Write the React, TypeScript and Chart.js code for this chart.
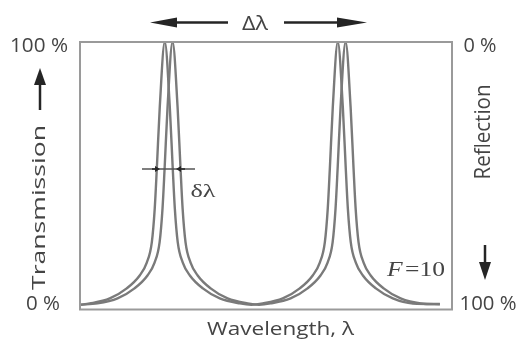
import React, { useEffect, useRef } from "react";
import { Chart, registerables } from "chart.js";

Chart.register(...registerables);

// Wavelength (arbitrary units) and transmission (%)
const wavelengthA = [0, 5.6, 17.2, 27, 34.5, 38.6, 41.5, 43.2, 44.4, 46.1, 49, 51.9, 53.6, 54.8, 56.5, 59.4, 63.5, 71, 80.8, 92.4, 99, 105.6, 117.2, 127, 134.5, 138.6, 141.5, 143.2, 144.4, 146.1, 149, 151.9, 153.6, 154.8, 156.5, 159.4, 163.5, 171, 180.8, 192.4, 208];
const transmissionA = [0.3, 0.8, 2.7, 6.5, 11.4, 16.3, 24, 36.9, 52, 75.3, 100, 75.3, 52, 36.9, 24, 16.3, 11.4, 6.5, 2.7, 0.8, 0.3, 0.8, 2.7, 6.5, 11.4, 16.3, 24, 36.9, 52, 75.3, 100, 75.3, 52, 36.9, 24, 16.3, 11.4, 6.5, 2.7, 0.8, 0.6];

const wavelengthB = [0, 10.1, 21.7, 31.5, 39, 43.1, 46, 47.7, 48.9, 50.6, 53.5, 56.4, 58.1, 59.3, 61, 63.9, 68, 75.5, 85.3, 96.9, 103.5, 110.1, 121.7, 131.5, 139, 143.1, 146, 147.7, 148.9, 150.6, 153.5, 156.4, 158.1, 159.3, 161, 163.9, 168, 175.5, 185.3, 196.9, 208];
const transmissionB = [0.35, 0.8, 2.7, 6.5, 11.4, 16.3, 24, 36.9, 52, 75.3, 100, 75.3, 52, 36.9, 24, 16.3, 11.4, 6.5, 2.7, 0.8, 0.3, 0.8, 2.7, 6.5, 11.4, 16.3, 24, 36.9, 52, 75.3, 100, 75.3, 52, 36.9, 24, 16.3, 11.4, 6.5, 2.7, 0.8, 0.5];

const transmissionTicks = [100, 0];
const transmissionTickLabels = ["100 %", "0 %"];
const reflectionTicks = [0, 100];
const reflectionTickLabels = ["0 %", "100 %"];

const xTitle = "Wavelength, λ";
const leftTitle = "Transmission";
const rightTitle = "Reflection";
const fsrLabel = "Δλ";
const fwhmLabel = "δλ";
const finesseName = "F";
const finesseValue = "=10";

const TEXT = "#444444";
const ARROW = "#252525";

function fitText(ctx: CanvasRenderingContext2D, text: string, x: number, y: number, font: string, targetW: number, rot = 0) {
  ctx.save();
  ctx.font = font;
  ctx.translate(x, y);
  ctx.rotate(rot);
  const w = ctx.measureText(text).width;
  ctx.scale(targetW / w, 1);
  ctx.textAlign = "center";
  ctx.textBaseline = "alphabetic";
  ctx.fillStyle = TEXT;
  ctx.fillText(text, 0, 0);
  ctx.restore();
}

function arrow(ctx: CanvasRenderingContext2D, x1: number, y1: number, x2: number, y2: number, head: number, half: number, lw: number, color: string) {
  const ang = Math.atan2(y2 - y1, x2 - x1);
  const bx = x2 - Math.cos(ang) * head;
  const by = y2 - Math.sin(ang) * head;
  ctx.save();
  ctx.strokeStyle = color;
  ctx.fillStyle = color;
  ctx.lineWidth = lw;
  ctx.beginPath();
  ctx.moveTo(x1, y1);
  ctx.lineTo(bx, by);
  ctx.stroke();
  ctx.beginPath();
  ctx.moveTo(x2, y2);
  ctx.lineTo(bx + Math.sin(ang) * half, by - Math.cos(ang) * half);
  ctx.lineTo(bx - Math.sin(ang) * half, by + Math.cos(ang) * half);
  ctx.closePath();
  ctx.fill();
  ctx.restore();
}

const decorations = {
  id: "decorations",
  afterDatasetsDraw(chart: any) {
    const { ctx, chartArea: a, scales } = chart;
    const ys = scales.y;
    const yr = scales.yR;
    ctx.save();
    // frame
    ctx.strokeStyle = "#9a9a9a";
    ctx.lineWidth = 2;
    ctx.strokeRect(a.left, a.top, a.right - a.left, a.bottom - a.top);

    // left ticks
    transmissionTicks.forEach((v, i) => {
      const py = ys.getPixelForValue(v);
      const cx = v === 100 ? 39 : 43;
      const w = v === 100 ? 58 : 34;
      fitText(ctx, transmissionTickLabels[i], cx, py + (v === 100 ? 10 : 4.5), "20px 'Open Sans'", w);
    });
    // right ticks
    reflectionTicks.forEach((v, i) => {
      const py = yr.getPixelForValue(v);
      const cx = v === 0 ? 480 : 488;
      const w = v === 0 ? 33 : 57;
      fitText(ctx, reflectionTickLabels[i], cx, py + (v === 0 ? 10 : 4.5), "20px 'Open Sans'", w);
    });

    // axis titles
    fitText(ctx, leftTitle, 45, 207.5, "19px 'Open Sans'", 165, -Math.PI / 2);
    fitText(ctx, rightTitle, 490, 132, "22px 'Open Sans'", 95, -Math.PI / 2);
    fitText(ctx, xTitle, 280.5, 335, "19px 'Open Sans'", 147);

    // Δλ
    fitText(ctx, fsrLabel, 255, 30, "20px 'Open Sans'", 26);
    arrow(ctx, 228, 22.5, 150, 22.5, 27, 5, 2.5, ARROW);
    arrow(ctx, 284, 22.5, 367, 22.5, 30, 5, 2.5, ARROW);

    // side arrows
    arrow(ctx, 40, 110, 40, 68, 17, 6, 2.5, ARROW);
    arrow(ctx, 485, 245, 485, 280, 18, 6, 2.5, ARROW);

    // δλ marker
    ctx.strokeStyle = "#555";
    ctx.lineWidth = 1.5;
    ctx.beginPath();
    ctx.moveTo(142, 169);
    ctx.lineTo(195, 169);
    ctx.stroke();
    arrow(ctx, 152, 169, 160, 169, 5, 3, 1.5, ARROW);
    arrow(ctx, 185, 169, 176, 169, 5, 3, 1.5, ARROW);
    fitText(ctx, fwhmLabel, 203, 197, "19px 'Liberation Serif'", 25);

    // F = 10
    ctx.save();
    ctx.fillStyle = TEXT;
    ctx.textBaseline = "alphabetic";
    ctx.textAlign = "left";
    ctx.font = "italic 21px 'Liberation Serif'";
    const fw = ctx.measureText(finesseName).width;
    ctx.font = "21px 'Liberation Serif'";
    const vw = ctx.measureText(finesseValue).width;
    const s = 58 / (fw + vw + 2);
    ctx.translate(387, 276);
    ctx.scale(s, 1);
    ctx.font = "italic 21px 'Liberation Serif'";
    ctx.fillText(finesseName, 0, 0);
    ctx.font = "21px 'Liberation Serif'";
    ctx.fillText(finesseValue, fw + 2, 0);
    ctx.restore();

    ctx.restore();
  },
};

export default function App() {
  const ref = useRef<HTMLCanvasElement | null>(null);
  useEffect(() => {
    if (!ref.current) return;
    const mk = (xs: number[], ys: number[]) => xs.map((x, i) => ({ x, y: ys[i] }));
    const chart = new Chart(ref.current, {
      type: "line",
      data: {
        datasets: [
          {
            data: mk(wavelengthA, transmissionA),
            borderColor: "#7a7a7a",
            borderWidth: 2.4,
            pointRadius: 0,
            cubicInterpolationMode: "monotone",
            fill: false,
          },
          {
            data: mk(wavelengthB, transmissionB),
            borderColor: "#7a7a7a",
            borderWidth: 2.4,
            pointRadius: 0,
            cubicInterpolationMode: "monotone",
            fill: false,
          },
        ],
      },
      options: {
        responsive: false,
        animation: false,
        layout: { padding: { left: 80, top: 42, right: 67, bottom: 30.5 } },
        scales: {
          x: { type: "linear", min: 0, max: 215, display: false },
          y: { type: "linear", min: -1.5, max: 100, display: false },
          yR: { type: "linear", min: 0, max: 101.5, reverse: true, display: false, position: "right" },
        },
        plugins: { legend: { display: false }, tooltip: { enabled: false } },
      },
      plugins: [decorations],
    } as any);
    return () => chart.destroy();
  }, []);
  return (
    <div style={{ position: "fixed", left: 0, top: 0, width: 519, height: 340, background: "#fff" }}>
      <canvas ref={ref} width={519} height={340} style={{ display: "block" }} />
    </div>
  );
}
